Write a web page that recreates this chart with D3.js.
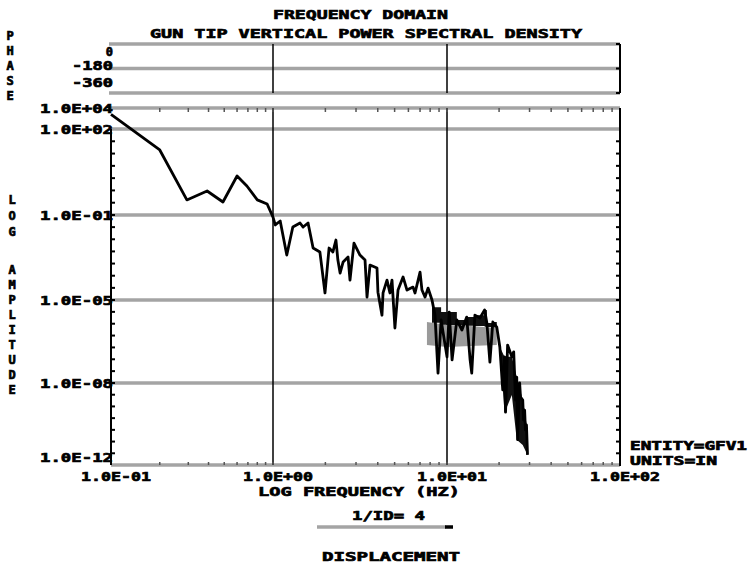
<!DOCTYPE html>
<html><head><meta charset="utf-8">
<script src="https://cdn.jsdelivr.net/npm/d3@7"></script>
<style>body{margin:0;background:#fff}svg text{font-family:"DejaVu Sans Mono",monospace;font-weight:bold;font-size:13px;fill:#000;stroke:#000;stroke-width:0.7px}</style>
</head><body><svg id="c" width="748" height="570"></svg>
<script>
// ---- data ----
const freq = [0.1, 0.2, 0.294, 0.392, 0.491, 0.60, 0.69, 0.80, 0.92, 1.0,
  1.03, 1.10, 1.20, 1.30, 1.43, 1.49, 1.59, 1.70, 1.86, 1.99,
  2.10, 2.21, 2.30, 2.36, 2.43, 2.53, 2.70, 2.77, 2.92, 3.16,
  3.38, 3.47, 3.61, 3.96, 4.01, 4.23, 4.29, 4.52, 4.70, 4.83,
  5.02, 5.23, 5.59, 5.89, 6.38, 6.55, 7.0, 7.18, 7.48, 7.78,
  8.2, 8.53, 8.88, 9.25, 10.0, 10.3, 10.7, 11.4, 12.2, 13.0,
  13.6, 13.9, 14.5, 15.5, 16.5, 17.0, 17.7, 18.4, 19.4, 20.2,
  21.0, 21.5, 21.8, 22.4, 23.7, 24.3, 24.9, 25.3, 25.6, 26.3,
  26.6, 27.4, 27.7, 28.1, 28.4, 28.8, 29.2];
const amp = [2.5e3, 14, 0.13, 0.30, 0.107, 1.22, 0.48, 0.13, 0.089, 0.026,
  0.0123, 0.0179, 7.1e-4, 0.0101, 0.0148, 0.0101, 0.0148, 1.38e-3, 9.5e-4, 1.95e-5,
  1.38e-3, 9.5e-4, 2.95e-3, 4.4e-4, 1.29e-4, 3.7e-4, 5.9e-4, 6.6e-5, 2.2e-3, 7.1e-4,
  4.4e-4, 1.32e-5, 2.75e-4, 2.07e-4, 2.1e-5, 2.3e-6, 1.95e-5, 6.6e-5, 1.95e-5, 6.6e-5,
  6.6e-7, 2.57e-5, 8.9e-5, 2.57e-5, 3.4e-5, 1.95e-5, 1.41e-4, 2.57e-5, 1.32e-5, 3.1e-5,
  1e-5, 2.3e-6, 8.3e-9, 1.44e-6, 4.0e-8, 3.1e-6, 3.0e-8, 1.44e-6, 5.4e-7, 1.9e-6,
  3.0e-8, 8.3e-9, 2.3e-6, 1.74e-6, 3.8e-6, 1.07e-6, 2.4e-8, 1.18e-6, 7.2e-7, 1.05e-7,
  1.6e-9, 4.0e-8, 1.8e-10, 1.26e-7, 4.0e-8, 6.5e-8, 5.9e-10, 5.6e-9, 1.2e-11, 3.16e-9,
  7.9e-10, 5.9e-10, 8.3e-11, 2.2e-10, 3.1e-11, 5.1e-11, 2.7e-12];
// dense (grey) band of the trace
const bandFreq = [7.67, 10, 13.6, 19.4];
const bandHigh = [1.18e-6, 8.9e-7, 8.0e-7, 6.6e-7];
const bandLow  = [1.26e-7, 1.05e-7, 1.15e-7, 1.26e-7];
// dark filled envelope above the grey band
const darkFreq = [8.2, 9.25, 10.3, 11.4, 13.0, 14.5, 16.5, 17.0, 18.4, 19.4];
const darkHigh = [5e-6, 3.1e-6, 3.1e-6, 1.44e-6, 1.9e-6, 2.3e-6, 3.8e-6, 1.07e-6, 1.18e-6, 7.2e-7];
const darkLow  = [1.1e-6, 9e-7, 8.9e-7, 8.5e-7, 8.2e-7, 8.0e-7, 7.5e-7, 7.2e-7, 7.0e-7, 6.6e-7];
// dark filled envelope of the steep roll-off
const blobFreq = [20.2, 21.5, 23.7, 25.3, 27.4, 29.2];
const blobHigh = [1.05e-7, 4e-8, 4e-8, 5.6e-9, 5.9e-10, 3.1e-11];
const blobLow  = [1e-7, 1.65e-10, 9.8e-10, 1.2e-11, 7.1e-12, 2.7e-12];

const yTickValues = [1e4, 1e2, 3.16e-2, 1e-5, 3.16e-9, 1e-12];
const yTickLabels = ["1.0E+04", "1.0E+02", "1.0E-01", "1.0E-05", "1.0E-08", "1.0E-12"];
const xTickValues = [0.1, 1, 10, 100];
const xTickLabels = ["1.0E-01", "1.0E+00", "1.0E+01", "1.0E+02"];
const phaseTickValues = [0, -180, -360];
const phaseTickLabels = ["0", "-180", "-360"];

// ---- layout ----
const svg = d3.select("#c");
const GRAY = "#a4a4a4";
const x = d3.scaleLog().domain([0.1, 1, 10, 100]).range([111, 273, 447, 620]);
const y = d3.scaleLog().domain([1e-12, 3.16e-9, 1e-5, 3.16e-2, 1e2, 1e4]).range([465, 383, 300, 215, 129, 108]);
const yp = d3.scaleLinear().domain([-360, 0]).range([93, 44]);
const [x0, x1] = [x(0.1), x(100)];

function txt(px, py, s, len, anchor, size) {
  const t = svg.append("text").attr("x", px).attr("y", py).attr("text-anchor", anchor || "start").text(s);
  if (len) t.attr("textLength", len).attr("lengthAdjust", "spacingAndGlyphs");
  if (size) t.style("font-size", size + "px");
  return t;
}

// titles
txt(273, 19, "FREQUENCY DOMAIN", 175);
txt(150, 38, "GUN TIP VERTICAL POWER SPECTRAL DENSITY", 432);

// vertical axis titles (stacked letters)
"PHASE".split("").forEach((c, i) => txt(10, 40 + i * 15, c, null, "middle", 12));
"LOG".split("").forEach((c, i) => txt(12, 204 + i * 16, c, null, "middle", 12));
"AMPLITUDE".split("").forEach((c, i) => txt(12, 274 + i * 15, c, null, "middle", 12));

// ---- phase panel ----
const ph = svg.append("g");
phaseTickValues.forEach((v, i) => {
  ph.append("line").attr("x1", x0 - 2).attr("x2", x1).attr("y1", yp(v)).attr("y2", yp(v))
    .attr("stroke", GRAY).attr("stroke-width", 3.5);
  ph.append("line").attr("x1", x1 - 4).attr("x2", x1).attr("y1", yp(v)).attr("y2", yp(v))
    .attr("stroke", "#000").attr("stroke-width", 2);
});
xTickValues.slice(1).forEach(v => {
  ph.append("line").attr("x1", x(v)).attr("x2", x(v)).attr("y1", yp(0)).attr("y2", yp(-360))
    .attr("stroke", "#000").attr("stroke-width", v === 100 ? 2 : 1.5);
});
txt(113, 56, phaseTickLabels[0], null, "end", 12);
txt(72, 70, phaseTickLabels[1], 41, "start", 12);
txt(72, 87, phaseTickLabels[2], 41, "start", 12);

// ---- amplitude panel ----
const g = svg.append("g");
yTickValues.forEach(v => {
  g.append("line").attr("x1", x0).attr("x2", x1).attr("y1", y(v)).attr("y2", y(v))
    .attr("stroke", GRAY).attr("stroke-width", 3.5);
});
xTickValues.slice(1, 3).forEach(v => {
  g.append("line").attr("x1", x(v)).attr("x2", x(v)).attr("y1", y(1e4)).attr("y2", y(1e-12))
    .attr("stroke", "#000").attr("stroke-width", 1.5);
});
g.append("line").attr("x1", x0).attr("x2", x0).attr("y1", y(1e2)).attr("y2", y(1e-12)).attr("stroke", "#000").attr("stroke-width", 2);
g.append("line").attr("x1", x1).attr("x2", x1).attr("y1", y(1e4)).attr("y2", y(1e-12) + 1).attr("stroke", "#000").attr("stroke-width", 2);

const yMinor = d3.range(-11.5, 2, 0.5).map(e => Math.pow(10, e));
yMinor.forEach(v => {
  g.append("line").attr("x1", x0).attr("x2", x0 + 4).attr("y1", y(v)).attr("y2", y(v)).attr("stroke", "#000").attr("stroke-width", 2);
  g.append("line").attr("x1", x1 - 4).attr("x2", x1).attr("y1", y(v)).attr("y2", y(v)).attr("stroke", "#000").attr("stroke-width", 2);
});
const xMinor = x.ticks().filter(v => v > 0.1 && v < 100);
xMinor.forEach(v => {
  g.append("line").attr("x1", x(v)).attr("x2", x(v)).attr("y1", y(1e4)).attr("y2", y(1e4) + 4).attr("stroke", "#555").attr("stroke-width", 1.5);
  g.append("line").attr("x1", x(v)).attr("x2", x(v)).attr("y1", y(1e-12)).attr("y2", y(1e-12) - 3).attr("stroke", "#555").attr("stroke-width", 1.5);
});

yTickValues.forEach((v, i) => {
  const dy = v === 1e-12 ? -3 : 5;
  txt(40, y(v) + dy, yTickLabels[i], 73);
});
xTickValues.forEach((v, i) => {
  txt(x(v) + 5, 481, xTickLabels[i], 70, "middle");
});

// grey dense band and dark envelopes
const area = d3.area().x(d => x(d[0])).y0(d => y(d[1])).y1(d => y(d[2]));
g.append("path").datum(bandFreq.map((f, i) => [f, bandLow[i], bandHigh[i]]))
  .attr("fill", "#9a9a9a").attr("d", area);
g.append("path").datum(darkFreq.map((f, i) => [f, darkLow[i], darkHigh[i]]))
  .attr("fill", "#111").attr("d", area.curve(d3.curveStepAfter));
g.append("path").datum(blobFreq.map((f, i) => [f, blobLow[i], blobHigh[i]]))
  .attr("fill", "#111").attr("d", d3.area().x(d => x(d[0])).y0(d => y(d[1])).y1(d => y(d[2])));

// spectrum trace
g.append("path").datum(freq.map((f, i) => [f, amp[i]]))
  .attr("fill", "none").attr("stroke", "#000").attr("stroke-width", 2.8)
  .attr("stroke-linejoin", "round")
  .attr("d", d3.line().x(d => x(d[0])).y(d => y(d[1])));

// annotations
txt(630, 450, "ENTITY=GFV1", 117, "start", 12);
txt(630, 465, "UNITS=IN", 87, "start", 12);
txt(258, 496, "LOG FREQUENCY (HZ)", 202);
txt(352, 520, "1/ID= 4", 73);
svg.append("line").attr("x1", 317).attr("x2", 446).attr("y1", 527).attr("y2", 527).attr("stroke", GRAY).attr("stroke-width", 3.5);
svg.append("line").attr("x1", 445).attr("x2", 453).attr("y1", 527).attr("y2", 527).attr("stroke", "#000").attr("stroke-width", 3.5);
txt(322, 561, "DISPLACEMENT", 138);
</script></body></html>
